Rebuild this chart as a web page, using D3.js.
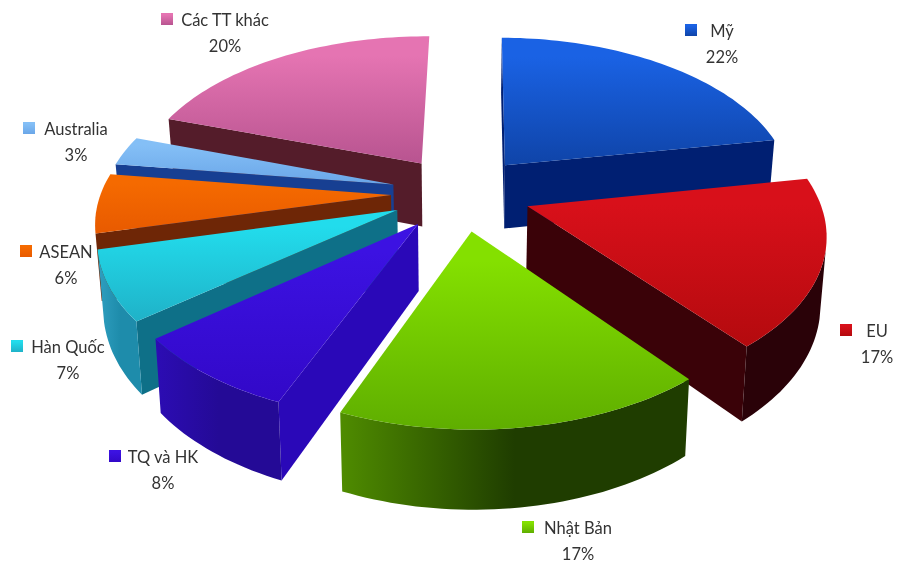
<!DOCTYPE html>
<html><head><meta charset="utf-8">
<script src="https://cdn.jsdelivr.net/npm/d3@7/dist/d3.min.js"></script>
<style>html,body{margin:0;padding:0;background:#fff}svg{display:block;filter:blur(0.7px)}text{font-family:Lato,"Open Sans",sans-serif;font-size:16.5px;fill:#333;text-anchor:middle}</style>
</head><body><svg id="c" width="897" height="563"></svg>
<script>
// data
const categories = ["Mỹ","EU","Nhật Bản","TQ và HK","Hàn Quốc","ASEAN","Australia","Các TT khác"];
const shares = [22,17,17,8,7,6,3,20];
const percentLabels = ["22%","17%","17%","8%","7%","6%","3%","20%"];
// style
const topLight = ["#1a62e4","#d8101a","#84e000","#3c12e2","#22dcec","#f56a00","#84bff6","#e574b2"];
const topDark  = ["#0f44a8","#b40a0e","#5fae00","#3208c8","#1fb2c8","#e85a00","#6aa6e8","#b85490"];
const sideColor= ["#001f72","#3a0208","#27480a","#2a08b8","#0e7088","#6e2606","#173f92","#541c2a"];
const arcLeft  = ["#0a3090","#2a0208","#4f8c00","#2c0cb4","#2f9fc0","#6e2606","#173f92","#541c2a"];
const arcRight = ["#0a3090","#2a0208","#1f3d00","#240a96","#1e8cab","#6e2606","#173f92","#541c2a"];
// layout: [text x, first-line y, marker x]
const labelLayout = [[722,37,691],[877,337,846],[578,534,528],[163,463,115],[68,353,17],[66,258,26],[76,135,29],[225,26,167]];
const cx=461, cy=193, R=290, explode=70, depth=1900, tilt=0.534, wall=65, bottomScale=0.983, rotation=0.6*Math.PI/180, facing=0.26, minWallWidth=12;

const svg=d3.select("#c");
const defs=svg.append("defs");
const uScale=d3.scaleLinear().domain([-1,1]).range([-R,R]);
const vScale=d3.scaleLinear().domain([-1,1]).range([-R,R]);
function project(u,v,bottom){
  const k=1/(1-v/depth);
  const s=bottom?bottomScale:1;
  return [cx+u*k*s, cy+tilt*v*k+(bottom?wall*k:0)];
}
const arcs=d3.pie().sort(null).startAngle(rotation).endAngle(rotation+2*Math.PI)(shares).map((a,i)=>({...a,i}));
const pathOf=pts=>"M"+pts.map(p=>p.map(n=>n.toFixed(1)).join(",")).join("L")+"Z";

arcs.forEach(a=>{
  const mid=(a.startAngle+a.endAngle)/2;
  a.mid=mid;
  const ox=explode*Math.sin(mid), oy=-explode*Math.cos(mid);
  const ground=t=>[ox+uScale(Math.sin(t)), oy+vScale(-Math.cos(t))];
  const n=Math.max(6,Math.round((a.endAngle-a.startAngle)*40));
  a.thetas=d3.range(n+1).map(j=>a.startAngle+(a.endAngle-a.startAngle)*j/n);
  a.arcG=a.thetas.map(ground);
  a.apexG=[ox,oy];
});
const order=arcs.slice().sort((p,q)=>(-Math.cos(p.mid))-(-Math.cos(q.mid)));

arcs.forEach(a=>{
  const g=defs.append("linearGradient").attr("id","top"+a.i).attr("x1",0).attr("y1",0).attr("x2",0).attr("y2",1);
  g.append("stop").attr("offset","0.15").attr("stop-color",topLight[a.i]);
  g.append("stop").attr("offset","1").attr("stop-color",topDark[a.i]);
  const h=defs.append("linearGradient").attr("id","arc"+a.i).attr("x1",0).attr("y1",0).attr("x2",1).attr("y2",0);
  h.append("stop").attr("offset","0").attr("stop-color",arcLeft[a.i]);
  h.append("stop").attr("offset","0.5").attr("stop-color",arcRight[a.i]);
  h.append("stop").attr("offset","1").attr("stop-color",arcRight[a.i]);
});

const slices=svg.selectAll("g.slice").data(order).join("g").attr("class","slice");
slices.each(function(a){
  const g=d3.select(this);
  const T=p=>project(p[0],p[1],false), B=p=>project(p[0],p[1],true);
  const last=a.arcG.length-1;
  const apex=T(a.apexG), start=T(a.arcG[0]), end=T(a.arcG[last]);
  if(start[0]<apex[0]) g.append("path").attr("d",pathOf([apex,start,B(a.arcG[0]),B(a.apexG)])).attr("fill",sideColor[a.i]);
  if(apex[0]+minWallWidth<end[0]) g.append("path").attr("d",pathOf([end,apex,B(a.apexG),B(a.arcG[last])])).attr("fill",sideColor[a.i]);
  // outer wall: only the part of the rim that faces the viewer
  const vis=a.arcG.filter((p,j)=>-Math.cos(a.thetas[j])>facing);
  if(vis.length>1){
    g.append("path").attr("d",pathOf(vis.map(T).concat(vis.slice().reverse().map(B)))).attr("fill",`url(#arc${a.i})`);
  }
  g.append("path").attr("d",pathOf([apex,...a.arcG.map(T)])).attr("fill",`url(#top${a.i})`);
});

const labels=svg.selectAll("g.label").data(arcs).join("g").attr("class","label");
labels.append("rect").attr("x",a=>labelLayout[a.i][2]-6).attr("y",a=>labelLayout[a.i][1]-13).attr("width",12).attr("height",12)
  .attr("fill",a=>`url(#top${a.i})`);
labels.append("text").attr("x",a=>labelLayout[a.i][0]).attr("y",a=>labelLayout[a.i][1]).text(a=>categories[a.i]);
labels.append("text").attr("x",a=>labelLayout[a.i][0]).attr("y",a=>labelLayout[a.i][1]+26).text(a=>percentLabels[a.i]);
</script></body></html>
